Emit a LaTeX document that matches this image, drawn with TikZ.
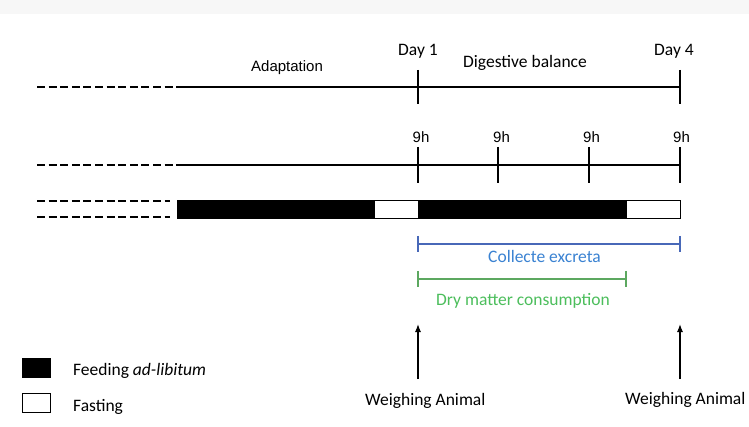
\documentclass[tikz,border=0pt]{standalone}
\usepackage{fontspec}
\setmainfont{Carlito}
\newfontfamily\arialf{Liberation Sans}
\usetikzlibrary{arrows.meta}
\definecolor{lineblue}{HTML}{4868B8}
\definecolor{textblue}{HTML}{3A82D2}
\definecolor{linegreen}{HTML}{5CA860}
\definecolor{textgreen}{HTML}{4CBE5C}
\tikzset{
  tl/.style={line width=1.2pt,black},
  dl/.style={line width=1.5pt,black,dash pattern=on 8pt off 3.6pt},
  tick/.style={line width=1.2pt,black},
  lbl/.style={inner sep=0pt,anchor=base west,font=\fontsize{17.5}{20}\selectfont},
  albl/.style={inner sep=0pt,anchor=base,font=\arialf\fontsize{15}{17}\selectfont},
  barblk/.style={fill=black,draw=black,line width=0.6pt},
  barwht/.style={fill=white,draw=black,line width=0.6pt},
  span/.style={line width=1.3pt},
}
\begin{document}
\begin{tikzpicture}[x=1pt,y=-1pt]
\useasboundingbox (0,0) rectangle (749,427);
\fill[white] (0,0) rectangle (749,427);
\fill[black!3] (0,0) rectangle (749,14);
% line 1
\coordinate (a0) at (37,87);
\coordinate (a1) at (176,87);
\coordinate (a2) at (680,87);
\draw[dl] (a0) -- (a1);
\draw[tl] (a1) -- (a2);
\coordinate (d1t) at (418,70); \coordinate (d1b) at (418,104);
\coordinate (d4t) at (680,70); \coordinate (d4b) at (680,104);
\draw[tick] (d1t) -- (d1b);
\draw[tick] (d4t) -- (d4b);
\node[lbl] (day1) at (398,56) {Day 1};
\node[lbl] (day4) at (654,56) {Day 4};
\node[albl,anchor=base west] (adapt) at (251,72) {Adaptation};
\node[lbl] (dig) at (463,68) {Digestive balance};
% line 2
\coordinate (b0) at (37,165);
\coordinate (b1) at (176,165);
\coordinate (b2) at (680,165);
\draw[dl] (b0) -- (b1);
\draw[tl] (b1) -- (b2);
\foreach \x/\n in {418/h1,498/h2,589/h3,680/h4}{
  \coordinate (\n t) at (\x,147); \coordinate (\n b) at (\x,183);
  \draw[tick] (\n t) -- (\n b);
}
\node[albl] (n1) at (421,143) {9h};
\node[albl] (n2) at (501.5,143) {9h};
\node[albl] (n3) at (591.5,143) {9h};
\node[albl] (n4) at (681.5,143) {9h};
% bar
\coordinate (c0) at (37,201); \coordinate (c1) at (170,201);
\coordinate (c2) at (37,217); \coordinate (c3) at (170,217);
\draw[dl] (c0) -- (c1);
\draw[dl] (c2) -- (c3);
\draw[barblk] (177,200) rectangle (374,218);
\draw[barwht] (374,200) rectangle (418,218);
\draw[barblk] (418,200) rectangle (626,218);
\draw[barwht] (626,200) rectangle (680,218);
% collect excreta
\coordinate (e0) at (418,244); \coordinate (e1) at (680,244);
\draw[span,lineblue] (e0) -- (e1);
\draw[span,lineblue] (418,236) -- (418,252);
\draw[span,lineblue] (680,236) -- (680,252);
\node[lbl,text=textblue] (coll) at (488,263) {Collecte excreta};
% dry matter
\coordinate (f0) at (418,279); \coordinate (f1) at (626,279);
\draw[span,linegreen] (f0) -- (f1);
\draw[span,linegreen] (418,271) -- (418,287);
\draw[span,linegreen] (626,271) -- (626,287);
\node[lbl,text=textgreen] (dry) at (436,306) {Dry matter consumption};
% arrows
\coordinate (w1b) at (418,379); \coordinate (w1t) at (418,324);
\coordinate (w2b) at (680,379); \coordinate (w2t) at (680,324);
\draw[line width=1.2pt,-{Latex[length=8pt,width=6pt]}] (w1b) -- (w1t);
\draw[line width=1.2pt,-{Latex[length=8pt,width=6pt]}] (w2b) -- (w2t);
\node[lbl] (wa1) at (365,405) {Weighing Animal};
\node[lbl] (wa2) at (625,404) {Weighing Animal};
% legend
\node[draw=black,fill=black,line width=0.8pt,minimum width=28pt,minimum height=19pt,inner sep=0pt] (lf) at (36.5,367.5) {};
\node[draw=black,fill=white,line width=0.8pt,minimum width=28pt,minimum height=19pt,inner sep=0pt] (lw) at (36.5,402.5) {};
\node[lbl] (tf) at (73,375) {Feeding \textit{ad-libitum}};
\node[lbl] (tw) at (73,411) {Fasting};
\end{tikzpicture}
\end{document}
